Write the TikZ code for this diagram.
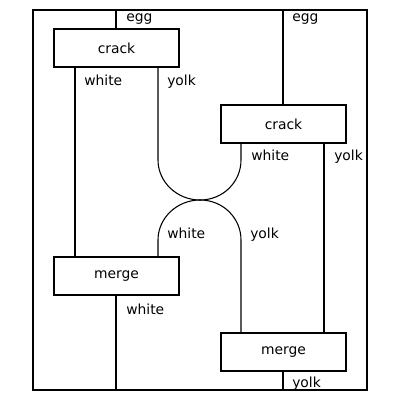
\documentclass[tikz,border=0pt]{standalone}
\usepackage{fontspec}
\setmainfont{DejaVu Sans}
\begin{document}
\begin{tikzpicture}[x=0.75pt,y=-0.75pt,
  wire/.style={line width=0.8pt},
  box/.style={draw,line width=0.8pt,fill=white,minimum width=93.75pt,minimum height=28.5pt,inner sep=0pt,font=\fontsize{10.4}{12}\selectfont},
  lab/.style={anchor=base west,inner sep=0pt,font=\fontsize{10.4}{12}\selectfont}]
\useasboundingbox (0,0) rectangle (400,400);
\draw[wire] (33,10) rectangle (367,390);
% boxes
\node[box] (c1) at (116.5,48) {crack};
\node[box] (c2) at (283.5,124) {crack};
\node[box] (m1) at (116.5,276) {merge};
\node[box] (m2) at (283.5,352) {merge};
% coordinates
\coordinate (in1) at (116,10);
\coordinate (in2) at (283,10);
\coordinate (out1) at (116,390);
\coordinate (out2) at (283,390);
\coordinate (c1w) at (75,67);
\coordinate (c1y) at (158,67);
\coordinate (c2w) at (241,143);
\coordinate (c2y) at (324,143);
\coordinate (m1w) at (75,257);
\coordinate (m1y) at (158,257);
\coordinate (m2w) at (241,333);
\coordinate (m2y) at (324,333);
\coordinate (x) at (200,200);
% wires
\draw[wire] (in1) -- (c1.north -| in1);
\draw[wire] (in2) -- (c2.north -| in2);
\draw[wire] (c1w) -- (m1w);
\draw[wire] (c2y) -- (m2y);
\draw[wire] (c1y) -- (158,160) .. controls (158,182) and (177,200) .. (x);
\draw[wire] (c2w) -- (241,160) .. controls (241,182) and (223,200) .. (x);
\draw[wire] (x) .. controls (177,200) and (158,218) .. (158,240) -- (m1y);
\draw[wire] (x) .. controls (223,200) and (241,218) .. (241,240) -- (m2w);
\draw[wire] (m1.south -| out1) -- (out1);
\draw[wire] (m2.south -| out2) -- (out2);
% labels
\node[lab] (l1) at (126,21) {egg};
\node[lab] (l2) at (292,21) {egg};
\node[lab] (l3) at (84,85) {white};
\node[lab] (l4) at (167,85) {yolk};
\node[lab] (l5) at (251,160) {white};
\node[lab] (l6) at (334,160) {yolk};
\node[lab] (l7) at (167,238) {white};
\node[lab] (l8) at (250,238) {yolk};
\node[lab] (l9) at (126,314) {white};
\node[lab] (l10) at (292,387) {yolk};
\end{tikzpicture}
\end{document}
